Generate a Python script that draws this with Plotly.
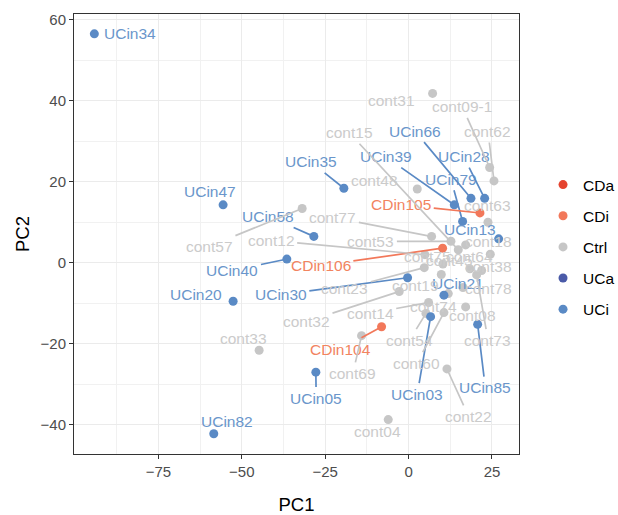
import plotly.graph_objects as go

# ---- PCA scores per sample -------------------------------------------------
samples = [
    "UCin34", "UCin47", "UCin35", "UCin58", "UCin40", "UCin20", "UCin30", "UCin82",
    "UCin05", "UCin03", "UCin85", "UCin21", "UCin13", "UCin79", "UCin39", "UCin66",
    "UCin28",
    "CDin105", "CDin106", "CDin104",
    "cont31", "cont09-1", "cont62", "cont15", "cont48", "cont63", "cont77", "cont53",
    "cont12", "cont57", "cont18", "cont38", "cont78", "cont73", "cont08", "cont74",
    "cont14", "cont32", "cont23", "cont19", "cont54", "cont60", "cont22", "cont04",
    "cont69", "cont33", "cont75", "cont45", "cont64",
]
groups = ["UCi"] * 17 + ["CDi"] * 3 + ["Ctrl"] * 29
pc1 = [
    -94.2, -55.6, -19.4, -28.4, -36.5, -52.6, -0.3, -58.4,
    -27.8, 6.6, 20.7, 10.6, 27.0, 16.2, 13.7, 18.7,
    22.8,
    21.4, 10.2, -8.1,
    7.2, 24.3, 25.6, 14.9, 2.6, 23.8, 6.9, 12.7,
    4.9, -31.9, 24.5, 21.9, 16.3, 20.4, 17.1, 11.9,
    6.0, -2.8, 4.7, 9.8, 5.2, 10.6, 11.5, -6.1,
    -14.1, -44.8, 10.3, 17.1, 18.4,
]
pc2 = [
    56.5, 14.3, 18.4, 6.5, 0.9, -9.5, -3.7, -42.2,
    -27.0, -13.3, -15.2, -8.0, 5.9, 10.2, 14.3, 15.9,
    15.9,
    12.3, 3.6, -15.8,
    41.8, 23.5, 20.2, 3.2, 18.2, 10.0, 6.5, 5.3,
    2.0, 13.4, 2.1, -1.9, -6.1, -3.0, -10.9, -7.6,
    -9.8, -7.1, -1.2, -2.9, -12.5, -12.3, -26.2, -38.7,
    -18.0, -21.6, -0.3, 4.4, -1.5,
]

# ---- repelled label placement (text centre, data units) ----------------------
label_x = [
    -83.6, -59.6, -29.3, -42.0, -52.8, -63.8, -38.3, -54.4,
    -27.7, 2.6, 23.0, 14.9, 18.4, 12.7, -6.9, 1.9,
    16.5,
    -2.2, -26.3, -20.3,
    -5.1, 16.1, 23.8, -17.8, -10.1, 23.8, -22.7, -11.3,
    -41.2, -59.7, 24.1, 24.0, 24.0, 23.8, 19.3, 7.4,
    -11.5, -30.6, -19.1, 2.2, 0.3, 2.5, 18.0, -9.2,
    -16.7, -49.6, 5.8, 12.4, 18.4,
]
label_y = [
    56.5, 17.5, 24.9, 11.4, -1.9, -7.8, -7.9, -39.3,
    -33.4, -32.4, -30.8, -5.2, 8.1, 20.6, 26.2, 32.5,
    26.2,
    14.3, -0.7, -21.3,
    40.0, 38.5, 32.4, 32.1, 20.2, 14.1, 11.2, 5.3,
    5.5, 4.1, 5.3, -0.8, -6.4, -19.1, -13.1, -10.9,
    -12.5, -14.5, -6.4, -5.6, -19.1, -24.8, -37.9, -41.6,
    -27.3, -18.7, 1.5, 0.5, 1.5,
]
leader = [
    False, False, True, True, True, False, True, False,
    True, True, True, False, True, True, True, True,
    True,
    True, True, True,
    False, True, True, True, False, False, True, True,
    True, True, False, False, False, True, False, False,
    True, True, True, True, True, True, True, False,
    True, False, False, False, False,
]

group_order = ["CDa", "CDi", "Ctrl", "UCa", "UCi"]
point_colors = {"CDa": "#E5432F", "CDi": "#F2785A", "Ctrl": "#C6C6C6",
                "UCa": "#4A5AA8", "UCi": "#5A8AC5"}
text_colors = {"CDa": "#E85A48", "CDi": "#F2845F", "Ctrl": "#CBCBCB",
               "UCa": "#5E6DB4", "UCi": "#6A96CB"}

FONT = "Liberation Sans, Arial, Helvetica, sans-serif"

fig = go.Figure()

for g in group_order:
    idx = [i for i, gr in enumerate(groups) if gr == g]
    fig.add_trace(go.Scatter(
        x=[pc1[i] for i in idx] if idx else [None],
        y=[pc2[i] for i in idx] if idx else [None],
        mode="markers",
        name=g,
        legendgroup=g,
        marker=dict(size=9, color=point_colors[g], line=dict(width=0)),
        hoverinfo="skip",
    ))

annotations = []
for i, name in enumerate(samples):
    col = text_colors[groups[i]]
    if leader[i]:
        annotations.append(dict(
            x=pc1[i], y=pc2[i], xref="x", yref="y",
            ax=label_x[i], ay=label_y[i], axref="x", ayref="y",
            text=name, showarrow=True, arrowhead=0, arrowwidth=1.7,
            arrowcolor=point_colors[groups[i]], standoff=2, borderpad=2,
            font=dict(family=FONT, size=15.5, color=col),
        ))
    else:
        annotations.append(dict(
            x=label_x[i], y=label_y[i], xref="x", yref="y",
            text=name, showarrow=False,
            font=dict(family=FONT, size=15.5, color=col),
        ))

axis_common = dict(
    showline=True, linecolor="#333333", linewidth=1, mirror=True,
    ticks="outside", ticklen=4, tickwidth=1, tickcolor="#333333",
    showgrid=True, gridcolor="#EBEBEB", gridwidth=1, zeroline=False,
    tickfont=dict(family=FONT, size=15, color="#4D4D4D"),
    automargin=False,
)

fig.update_layout(
    width=618, height=515,
    margin=dict(l=74, r=99, t=14, b=61, autoexpand=False),
    plot_bgcolor="white", paper_bgcolor="white",
    font=dict(family=FONT),
    annotations=annotations,
    xaxis=dict(
        range=[-100.3, 33.1], tickmode="array", tickvals=[-75, -50, -25, 0, 25],
        minor=dict(tickmode="array", tickvals=[-87.5, -62.5, -37.5, -12.5, 12.5],
                   showgrid=True, gridcolor="#F1F1F1", gridwidth=0.6),
        title=dict(text="PC1", font=dict(family=FONT, size=18.5, color="black"), standoff=22),
        **axis_common,
    ),
    yaxis=dict(
        range=[-47.2, 61.4], tickmode="array", tickvals=[-40, -20, 0, 20, 40, 60],
        minor=dict(tickmode="array", tickvals=[-30, -10, 10, 30, 50],
                   showgrid=True, gridcolor="#F1F1F1", gridwidth=0.6),
        title=dict(text="PC2", font=dict(family=FONT, size=18.5, color="black"), standoff=6),
        **axis_common,
    ),
    legend=dict(
        x=1.054, xanchor="left", y=0.65, yanchor="top",
        font=dict(family=FONT, size=15.5, color="black"),
        tracegroupgap=8, bgcolor="rgba(0,0,0,0)", traceorder="grouped",
    ),
    showlegend=True,
)

fig.write_html("out.html")
